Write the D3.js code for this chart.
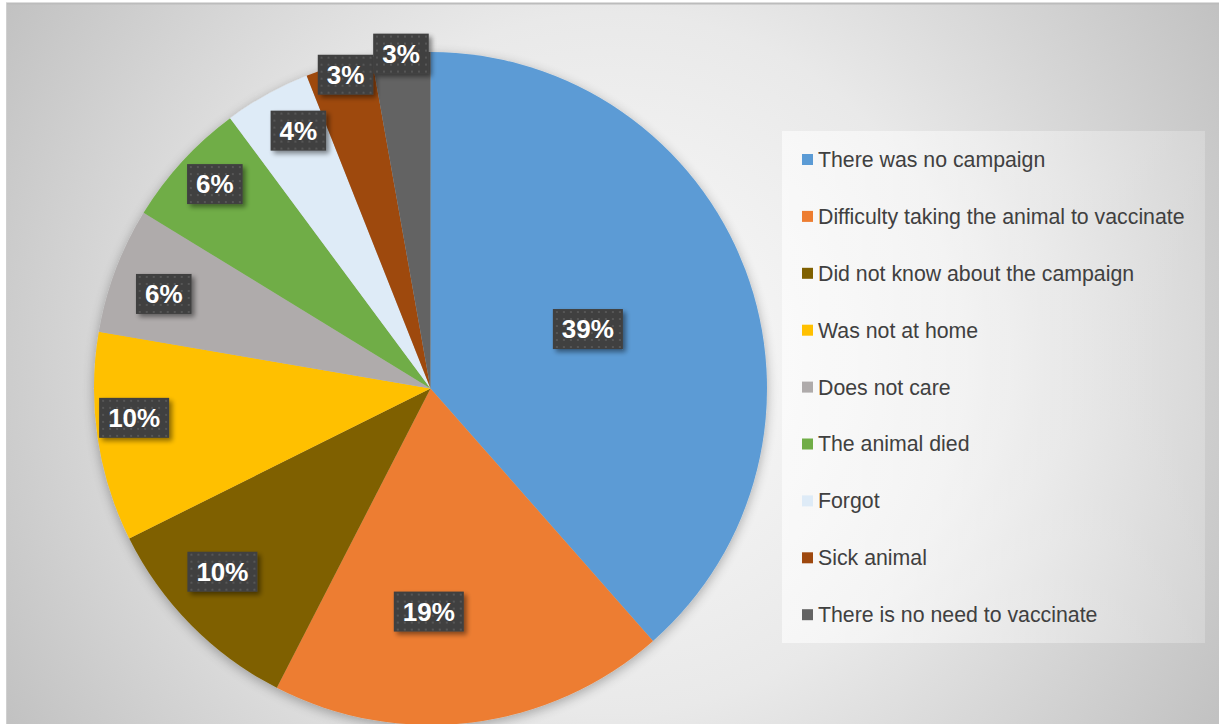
<!DOCTYPE html>
<html>
<head>
<meta charset="utf-8">
<script src="https://cdn.jsdelivr.net/npm/d3@7"></script>
<style>
  body { margin: 0; background: #fff; }
  svg text { font-family: "Liberation Sans", Arial, sans-serif; }
</style>
</head>
<body>
<div id="chart"></div>
<script>
// reasons for not vaccinating - pie chart with legend on the right

var categories = ["There was no campaign", "Difficulty taking the animal to vaccinate",
  "Did not know about the campaign", "Was not at home", "Does not care",
  "The animal died", "Forgot", "Sick animal", "There is no need to vaccinate"];
var percents = [38.5, 19.05, 10.1, 10.05, 6.05, 6.1, 4.15, 3.2, 2.8];
var colors = ["#5B9BD5", "#ED7D31", "#7F6000", "#FFC000", "#AFABAB",
  "#70AD47", "#DEEBF7", "#9E480E", "#636363"];
// where the data label sits: fraction along the slice, fraction of radius
var labelAlong = [0.5, 0.61, 0.59, 0.575, 0.45, 0.545, 0.63, 0.56, 0.5];
var labelRadius = [0.50, 0.663, 0.824, 0.885, 0.841, 0.883, 0.861, 0.966, 0.999];

var W = 1219, H = 724;
var cx = 430.5, cy = 388.5, R = 336.5;

var svg = d3.select("#chart").append("svg")
  .attr("width", W).attr("height", H);

var defs = svg.append("defs");

// background radial fill
var bg = defs.append("radialGradient").attr("id", "bgGrad")
  .attr("gradientUnits", "userSpaceOnUse")
  .attr("cx", 612).attr("cy", 363).attr("r", 700);
bg.append("stop").attr("offset", "0").attr("stop-color", "#fbfbfb");
bg.append("stop").attr("offset", "0.5").attr("stop-color", "#e9e9e9");
bg.append("stop").attr("offset", "1").attr("stop-color", "#c2c2c2");

// soft shadow round the pie
var pf = defs.append("filter").attr("id", "pieShadow")
  .attr("x", "-20%").attr("y", "-20%").attr("width", "140%").attr("height", "140%");
pf.append("feGaussianBlur").attr("in", "SourceAlpha").attr("stdDeviation", 6).attr("result", "b");
pf.append("feOffset").attr("in", "b").attr("dx", 0).attr("dy", 3).attr("result", "o");
pf.append("feComponentTransfer").attr("in", "o").attr("result", "s")
  .append("feFuncA").attr("type", "linear").attr("slope", 0.3);
var pm = pf.append("feMerge");
pm.append("feMergeNode").attr("in", "s");
pm.append("feMergeNode").attr("in", "SourceGraphic");

// shadow for label boxes
var lf = defs.append("filter").attr("id", "boxShadow")
  .attr("x", "-30%").attr("y", "-30%").attr("width", "170%").attr("height", "180%");
lf.append("feGaussianBlur").attr("in", "SourceAlpha").attr("stdDeviation", 2.5).attr("result", "b");
lf.append("feOffset").attr("in", "b").attr("dx", 3).attr("dy", 3).attr("result", "o");
lf.append("feComponentTransfer").attr("in", "o").attr("result", "s")
  .append("feFuncA").attr("type", "linear").attr("slope", 0.45);
var lm = lf.append("feMerge");
lm.append("feMergeNode").attr("in", "s");
lm.append("feMergeNode").attr("in", "SourceGraphic");

// dotted fill of label boxes
var pat = defs.append("pattern").attr("id", "dots")
  .attr("patternUnits", "userSpaceOnUse").attr("width", 7).attr("height", 7);
pat.append("rect").attr("width", 7).attr("height", 7).attr("fill", "#404040");
pat.append("rect").attr("x", 3).attr("y", 3).attr("width", 2).attr("height", 2).attr("fill", "#565656");

// legend box fill
var lg = defs.append("linearGradient").attr("id", "legGrad");
lg.append("stop").attr("offset", "0").attr("stop-color", "#ffffff").attr("stop-opacity", 0.6);
lg.append("stop").attr("offset", "1").attr("stop-color", "#ffffff").attr("stop-opacity", 0.22);

// chart area
svg.append("rect")
  .attr("x", 6).attr("y", 3).attr("width", W - 6).attr("height", H - 3)
  .attr("fill", "url(#bgGrad)");
svg.append("line")
  .attr("x1", 6).attr("x2", W).attr("y1", 3.5).attr("y2", 3.5)
  .attr("stroke", "#bcbcbc").attr("stroke-width", 2);
svg.append("line")
  .attr("x1", 6.5).attr("x2", 6.5).attr("y1", 3).attr("y2", H)
  .attr("stroke", "#d0d0d0").attr("stroke-width", 1);

// pie
var pie = d3.pie().sort(null).value(function(d) { return d; });
var arcs = pie(percents);
var arc = d3.arc().innerRadius(0).outerRadius(R);

var g = svg.append("g").attr("transform", "translate(" + cx + "," + cy + ")");

g.append("g").attr("filter", "url(#pieShadow)")
  .selectAll("path").data(arcs).enter()
  .append("path")
    .attr("d", arc)
    .attr("fill", function(d, i) { return colors[i]; });

// data labels
var labels = g.selectAll("g.lbl").data(arcs).enter()
  .append("g").classed("lbl", true)
  .attr("transform", function(d, i) {
    var a = d.startAngle + labelAlong[i] * (d.endAngle - d.startAngle);
    var rr = R * labelRadius[i];
    var p = d3.arc().innerRadius(rr).outerRadius(rr).centroid({startAngle: a, endAngle: a});
    return "translate(" + p[0] + "," + p[1] + ")";
  });

labels.each(function(d, i) {
  var lab = d3.select(this);
  var t = lab.append("text")
    .attr("text-anchor", "middle")
    .attr("dy", "0.36em")
    .attr("font-size", 26)
    .attr("font-weight", "bold")
    .attr("fill", "#ffffff")
    .text(Math.round(d.value) + "%");
  var w = t.node().getComputedTextLength() + 18;
  lab.insert("rect", "text")
    .attr("x", -w / 2).attr("y", -20)
    .attr("width", w).attr("height", 40)
    .attr("fill", "url(#dots)")
    .attr("filter", "url(#boxShadow)");
});

// legend
var legX = 782, legY = 131, legW = 423, legH = 512;
svg.append("rect")
  .attr("x", legX).attr("y", legY).attr("width", legW).attr("height", legH)
  .attr("fill", "url(#legGrad)");

var legY0 = 159.5, legStep = 56.9;
var items = svg.selectAll("g.leg").data(categories).enter()
  .append("g").classed("leg", true)
  .attr("transform", function(d, i) { return "translate(802," + (legY0 + i * legStep) + ")"; });

items.append("rect")
  .attr("x", 0).attr("y", -5.5).attr("width", 11).attr("height", 11)
  .attr("fill", function(d, i) { return colors[i]; });

items.append("text")
  .attr("x", 16).attr("dy", "0.35em")
  .attr("font-size", 21.3)
  .attr("fill", "#404040")
  .text(function(d) { return d; });
</script>
</body>
</html>
